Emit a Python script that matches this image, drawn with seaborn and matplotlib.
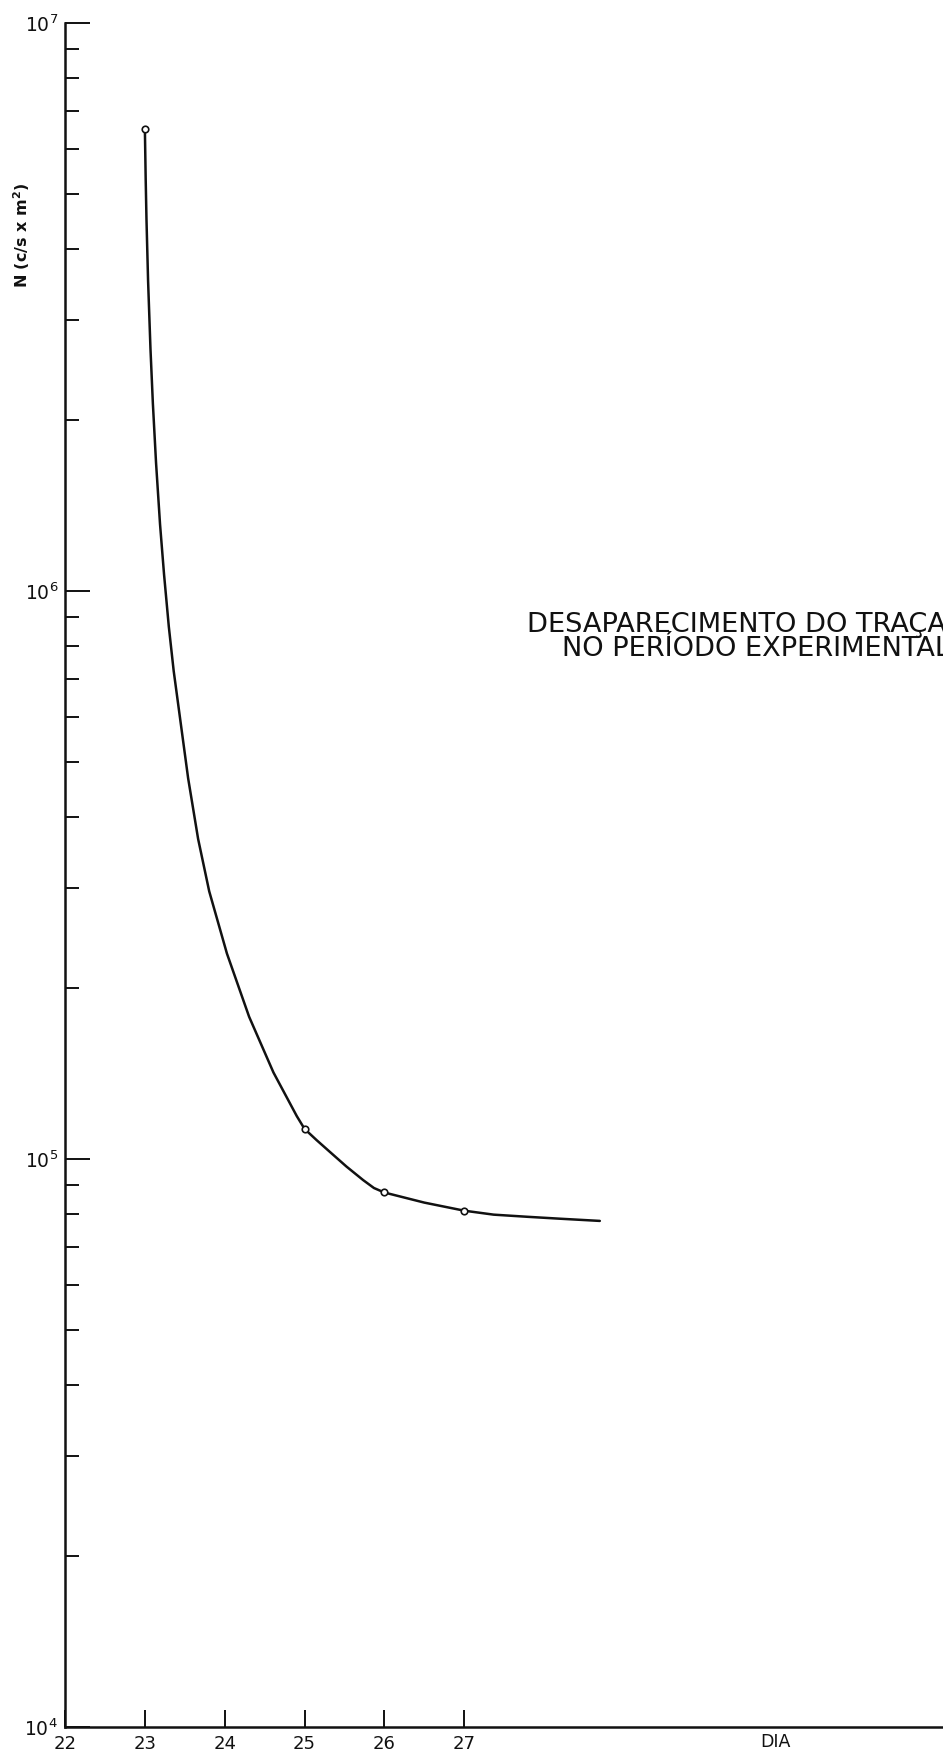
import numpy as np
import pandas as pd
from matplotlib import pyplot as plt
from matplotlib.ticker import FixedLocator, NullFormatter, LogLocator
import seaborn as sns

# Measured points (open circles).
point_days = [23, 25, 26, 27]
point_vals = [6.5e6, 1.13e5, 8.73e4, 8.11e4]

# Hand-drawn curve.
curve_days = [23.0, 23.01, 23.02, 23.04, 23.07, 23.1, 23.14, 23.19, 23.24, 23.3,
              23.361, 23.542, 23.667, 23.806, 24.028, 24.306, 24.611, 24.903, 25.0,
              25.15, 25.315, 25.525, 25.735, 25.87, 26.0, 26.5, 27.0, 27.37, 27.8, 28.2, 28.7]
curve_vals = [6.5e6, 5.32e6, 4.51e6, 3.52e6, 2.67e6, 2.14e6, 1.68e6, 1.31e6, 1.07e6, 8.65e5,
              7.23e5, 4.68e5, 3.66e5, 2.96e5, 2.3e5, 1.78e5, 1.42e5, 1.19e5, 1.13e5,
              1.08e5, 1.03e5, 9.7e4, 9.18e4, 8.89e4, 8.73e4, 8.38e4, 8.11e4, 7.98e4, 7.91e4, 7.85e4, 7.78e4]

x_ticks = [22, 23, 24, 25, 26, 27]
y_ticks = [1e4, 1e5, 1e6, 1e7]
y_tick_labels = [r"$\mathregular{10^{4}}$", r"$\mathregular{10^{5}}$",
                 r"$\mathregular{10^{6}}$", r"$\mathregular{10^{7}}$"]

title_lines = ["DESAPARECIMENTO DO TRAÇADOR", "NO PERÍODO EXPERIMENTAL"]

ink = "#111111"

sns.set_style("ticks")
plt.rcParams["font.family"] = ["DejaVu Sans"]

fig = plt.figure(figsize=(9.43, 17.51), dpi=100)
ax = fig.add_axes([0.069, 0.0137, 0.931, 0.9732])

curve = pd.DataFrame({"Dia": curve_days, "N": curve_vals})
pts = pd.DataFrame({"Dia": point_days, "N": point_vals})

sns.lineplot(data=curve, x="Dia", y="N", ax=ax, color=ink, linewidth=1.8, sort=False)
sns.scatterplot(data=pts, x="Dia", y="N", ax=ax, marker="o", s=22,
                facecolor="white", edgecolor=ink, linewidth=1.2, zorder=3)

ax.set_yscale("log")
ax.set_xlim(22, 33)
ax.set_ylim(1e4, 1e7)

# Axes look: only left and bottom lines, ticks pointing inward.
for side in ("top", "right"):
    ax.spines[side].set_visible(False)
for side in ("left", "bottom"):
    ax.spines[side].set_color(ink)
    ax.spines[side].set_linewidth(1.8)

ax.xaxis.set_major_locator(FixedLocator(x_ticks))
ax.set_xticklabels([str(t) for t in x_ticks])
ax.xaxis.set_minor_locator(FixedLocator([]))
ax.yaxis.set_major_locator(FixedLocator(y_ticks))
ax.set_yticklabels(y_tick_labels)
ax.yaxis.set_minor_locator(LogLocator(base=10, subs=np.arange(2, 10)))
ax.yaxis.set_minor_formatter(NullFormatter())

ax.tick_params(which="both", bottom=True, left=True, top=False, right=False)
ax.tick_params(axis="x", which="major", direction="in", length=12, width=1.4,
               color=ink, labelsize=13, labelcolor=ink, pad=6)
ax.tick_params(axis="y", which="major", direction="in", length=18, width=1.4,
               color=ink, labelsize=13.5, labelcolor=ink, pad=5)
ax.tick_params(axis="y", which="minor", direction="in", length=10, width=1.4, color=ink)

ax.set_xlabel("DIA", fontsize=12.5, color=ink)
ax.xaxis.set_label_coords(0.809, -0.0035)
ax.set_ylabel(r"N (c/s x m$^{\mathregular{2}}$)", fontsize=11.5, color=ink, fontweight="bold")
ax.yaxis.set_label_coords(-0.0376, 0.8756)

fig.text(527 / 943, 1 - 632 / 1751, title_lines[0], fontsize=19.6, color=ink,
         ha="left", va="baseline")
fig.text(562 / 943, 1 - 656 / 1751, title_lines[1], fontsize=19.6, color=ink,
         ha="left", va="baseline")

fig.savefig("out.png", dpi=100, facecolor="white")
